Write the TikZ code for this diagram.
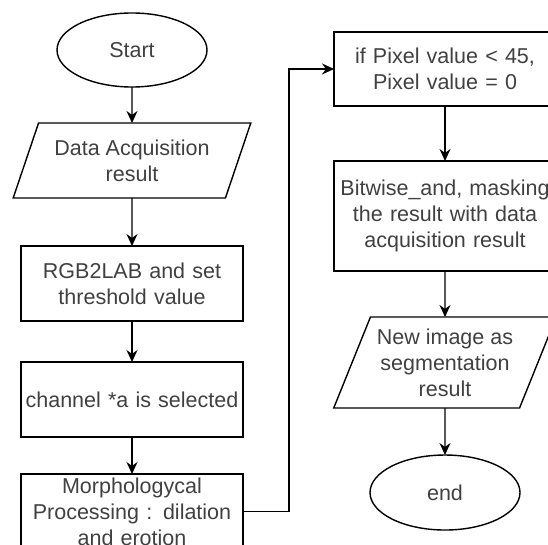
\documentclass[tikz,border=0pt]{standalone}
\usepackage{fontspec}
\setmainfont{Liberation Sans}
\usetikzlibrary{shapes.geometric,arrows.meta,positioning}

\begin{document}
\begin{tikzpicture}[x=1pt, y=1pt,
    every node/.style={font=\fontsize{21.5}{26}\selectfont, text=black!75, outer sep=0pt},
    terminal/.style={ellipse, draw, line width=1.4pt, minimum width=150pt, minimum height=74pt, inner sep=0pt},
    iobox/.style={trapezium, trapezium left angle=64, trapezium right angle=116, trapezium stretches=true, draw, line width=1.4pt, align=center, inner sep=1pt},
    procbox/.style={rectangle, draw, line width=1.4pt, text width=220pt, align=center, minimum height=75pt, inner sep=1pt},
    flow/.style={-{Stealth[length=12pt, width=11pt]}, line width=1.4pt}]
    \useasboundingbox (0,0) rectangle (548,-545);

    % Left column
    \node (start) [terminal] at (132,-50) {Start};
    \node (data) [iobox, minimum width=238pt, minimum height=75pt, below=36pt of start] {Data Acquisition\\result};
    \node (rgb) [procbox, below=48pt of data] {RGB2LAB and set\\threshold value};
    \node (chan) [procbox, below=41pt of rgb] {channel *a is selected};
    \node (morph) [procbox, below=37pt of chan] {Morphologycal\\Processing : dilation\\and erotion};

    % Right column
    \node (thres) [procbox, minimum height=74pt] at (445,-69) {if Pixel value < 45,\\Pixel value = 0};
    \node (mask) [procbox, minimum height=110pt, below=55pt of thres] {Bitwise\_and, masking\\the result with data\\acquisition result};
    \node (newimg) [iobox, minimum width=223pt, minimum height=91pt, below=46pt of mask] {New image as\\segmentation\\result};
    \node (end) [terminal, minimum height=75pt, below=47pt of newimg] {end};

    % Arrows
    \draw [flow] (start) -- (data);
    \draw [flow] (data) -- (rgb);
    \draw [flow] (rgb) -- (chan);
    \draw [flow] (chan) -- (morph);
    \draw [flow] (morph.east) -- ++(46,0) |- (thres.west);
    \draw [flow] (thres) -- (mask);
    \draw [flow] (mask) -- (newimg);
    \draw [flow] (newimg) -- (end);
\end{tikzpicture}
\end{document}
